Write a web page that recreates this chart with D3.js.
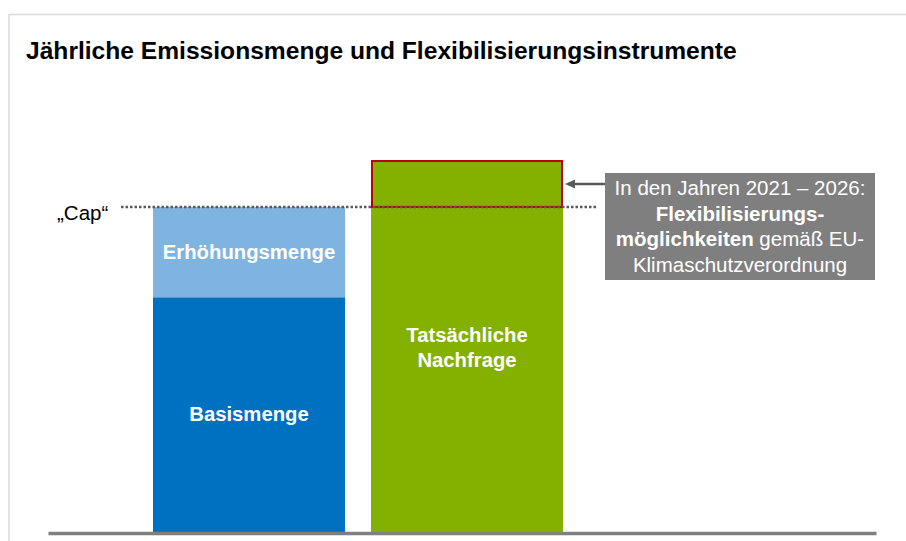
<!DOCTYPE html>
<html>
<head>
<meta charset="utf-8">
<script src="https://cdn.jsdelivr.net/npm/d3@7"></script>
<style>
  body { margin: 0; background: #fff; }
  svg text { font-family: "Liberation Sans", Arial, sans-serif; }
</style>
</head>
<body>
<div id="chart"></div>
<script>
// chart values
var categories = ["Zulässige Emissionsmenge", "Tatsächliche Nachfrage"];
var basisValues = [65, 0];
var increaseValues = [25, 0];
var demandValues = [0, 103];
var capValue = 90;
var segmentLabels = ["Basismenge", "Erhöhungsmenge"];
var demandLabel = ["Tatsächliche", "Nachfrage"];
var titleText = "Jährliche Emissionsmenge und Flexibilisierungsinstrumente";
// each line of the note: [text, bold?]
var noteLines = [
    [["In den Jahren 2021 – 2026:", false]],
    [["Flexibilisierungs-", true]],
    [["möglichkeiten", true], [" gemäß EU-", false]],
    [["Klimaschutzverordnung", false]]
];

var svgWidth = 906;
var svgHeight = 541;

var svg = d3.select('#chart')
    .append('svg')
    .attr('width', svgWidth)
    .attr('height', svgHeight);

// frame
svg.append('path')
    .attr('d', 'M9,541 V14.5 H906')
    .attr('fill', 'none')
    .attr('stroke', '#d9d9d9')
    .attr('stroke-width', 1.5);

// title
svg.append('text')
    .attr('x', 26)
    .attr('y', 59)
    .style('font-size', '24.6px')
    .style('font-weight', 'bold')
    .style('fill', '#000')
    .text(titleText);

// scales
var xScale = d3.scaleBand()
    .domain(categories)
    .range([153, 563])
    .paddingInner(26 / 218);

var yScale = d3.scaleLinear()
    .domain([0, 103])
    .range([532, 160]);

var bw = xScale.bandwidth();

// Basismenge
svg.append('rect')
    .attr('x', xScale(categories[0]))
    .attr('y', yScale(basisValues[0]))
    .attr('width', bw)
    .attr('height', yScale(0) - yScale(basisValues[0]))
    .attr('fill', '#0070c0');

// Erhöhungsmenge
svg.append('rect')
    .attr('x', xScale(categories[0]))
    .attr('y', yScale(basisValues[0] + increaseValues[0]))
    .attr('width', bw)
    .attr('height', yScale(basisValues[0]) - yScale(basisValues[0] + increaseValues[0]))
    .attr('fill', '#7fb4e0');

// actual demand
svg.append('rect')
    .attr('x', xScale(categories[1]))
    .attr('y', yScale(demandValues[1]))
    .attr('width', bw)
    .attr('height', yScale(0) - yScale(demandValues[1]))
    .attr('fill', '#84b000');

// flexibility part above the cap
svg.append('rect')
    .attr('x', xScale(categories[1]) + 1)
    .attr('y', yScale(demandValues[1]) + 1)
    .attr('width', bw - 2)
    .attr('height', yScale(capValue) - yScale(demandValues[1]) - 1)
    .attr('fill', 'none')
    .attr('stroke', '#c00000')
    .attr('stroke-width', 2);

// cap line
svg.append('line')
    .attr('x1', 121)
    .attr('x2', 596)
    .attr('y1', yScale(capValue))
    .attr('y2', yScale(capValue))
    .attr('stroke', '#595959')
    .attr('stroke-width', 2.5)
    .attr('stroke-dasharray', '2.5,2');

svg.append('text')
    .attr('x', 57)
    .attr('y', yScale(capValue) + 13)
    .style('font-size', '20.5px')
    .style('fill', '#000')
    .text('„Cap“');

// baseline via axis
var axisScale = d3.scaleLinear().range([48, 876]);
var axis = svg.append('g')
    .attr('transform', `translate(0, ${yScale(0) + 1})`)
    .call(d3.axisBottom(axisScale).ticks(0).tickSize(0).tickFormat(''));
axis.select('.domain')
    .attr('stroke', '#7f7f7f')
    .attr('stroke-width', 3.5);

// labels in the bars
var barLabelStyle = function(sel) {
    sel.style('font-size', '20.3px')
        .style('font-weight', 'bold')
        .style('fill', '#fff')
        .style('text-anchor', 'middle');
};

svg.append('text')
    .attr('x', xScale(categories[0]) + bw / 2)
    .attr('y', (yScale(basisValues[0]) + yScale(basisValues[0] + increaseValues[0])) / 2 + 7)
    .call(barLabelStyle)
    .text(segmentLabels[1]);

svg.append('text')
    .attr('x', xScale(categories[0]) + bw / 2)
    .attr('y', 421)
    .call(barLabelStyle)
    .text(segmentLabels[0]);

svg.append('text')
    .attr('x', xScale(categories[1]) + bw / 2)
    .attr('y', 342)
    .call(barLabelStyle)
    .selectAll('tspan')
    .data(demandLabel)
    .enter()
    .append('tspan')
    .attr('x', xScale(categories[1]) + bw / 2)
    .attr('dy', (d, i) => i === 0 ? 0 : 25)
    .text(d => d);

// annotation box
var boxX = 605, boxY = 173, boxW = 270, boxH = 107;
svg.append('rect')
    .attr('x', boxX)
    .attr('y', boxY)
    .attr('width', boxW)
    .attr('height', boxH)
    .attr('fill', '#7f7f7f');

var note = svg.append('text')
    .style('font-size', '20.5px')
    .style('fill', '#fff')
    .style('text-anchor', 'middle');

noteLines.forEach(function(line, i) {
    var row = note.append('tspan')
        .attr('x', boxX + boxW / 2)
        .attr('y', 195 + i * 25.7);
    line.forEach(function(part) {
        row.append('tspan')
            .style('font-weight', part[1] ? 'bold' : 'normal')
            .text(part[0]);
    });
});

// arrow pointing at the part above the cap
var arrowY = 184;
var tipX = xScale(categories[1]) + bw + 2;
svg.append('line')
    .attr('x1', boxX)
    .attr('x2', tipX + 8)
    .attr('y1', arrowY)
    .attr('y2', arrowY)
    .attr('stroke', '#595959')
    .attr('stroke-width', 2.5);

svg.append('path')
    .attr('d', `M${tipX},${arrowY} L${tipX + 10},${arrowY - 4.5} L${tipX + 10},${arrowY + 4.5} Z`)
    .attr('fill', '#595959');
</script>
</body>
</html>
